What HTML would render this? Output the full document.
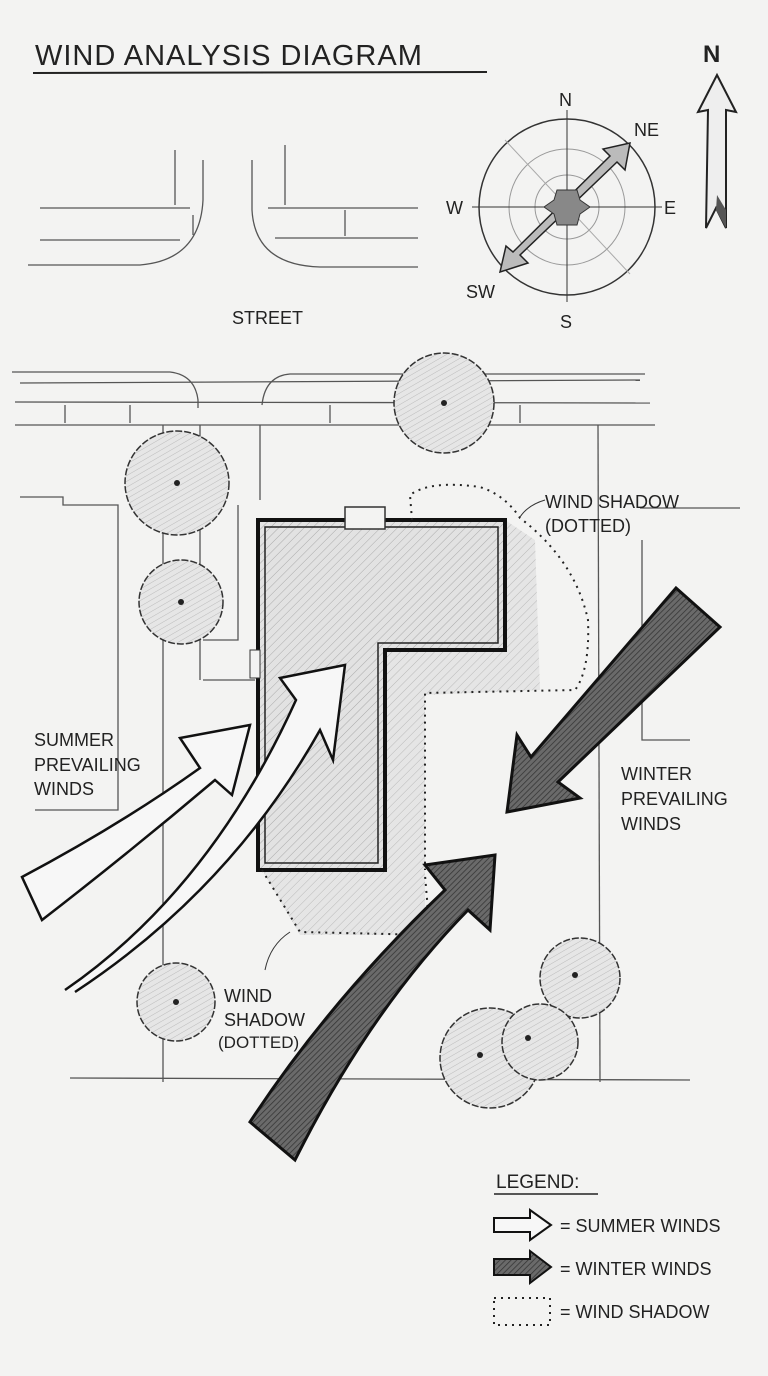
<!DOCTYPE html>
<html><head><meta charset="utf-8"><style>
html,body{margin:0;padding:0;background:#f3f3f2}
svg{display:block}
text{font-family:"Liberation Sans",sans-serif;fill:#222}
</style></head><body>
<svg width="768" height="1376" viewBox="0 0 768 1376" xmlns="http://www.w3.org/2000/svg">
<defs>
<pattern id="h" width="6" height="6" patternUnits="userSpaceOnUse" patternTransform="rotate(45)"><rect width="6" height="6" fill="#e2e2e2"/><line x1="0" y1="0" x2="0" y2="6" stroke="#aaa" stroke-width="1"/></pattern>
<pattern id="t" width="5" height="5" patternUnits="userSpaceOnUse" patternTransform="rotate(60)"><rect width="5" height="5" fill="#e6e6e6"/><line x1="0" y1="0" x2="0" y2="5" stroke="#bbb" stroke-width="1"/></pattern>
<pattern id="d" width="4" height="4" patternUnits="userSpaceOnUse" patternTransform="rotate(45)"><rect width="4" height="4" fill="#6a6a6a"/><line x1="0" y1="0" x2="0" y2="4" stroke="#333" stroke-width="1.5"/></pattern>
</defs>
<rect width="768" height="1376" fill="#f3f3f2"/>
<text x="35" y="65" font-size="29" letter-spacing="1">WIND ANALYSIS DIAGRAM</text>
<line x1="33" y1="73" x2="487" y2="72" stroke="#222" stroke-width="2"/>
<text x="703" y="62" font-size="24" font-family="Liberation Serif" font-weight="bold">N</text>
<path d="M717 75 L736 112 L726 110 L726 228 L716 208 L706 228 L708 110 L698 112 Z" fill="#eee" stroke="#222" stroke-width="2"/>
<path d="M717 195 L726 210 L726 228 L716 210 Z" fill="#555"/>
<g stroke="#333" fill="none">
<circle cx="567" cy="207" r="88" stroke-width="1.5"/>
<circle cx="567" cy="207" r="58" stroke="#999"/>
<circle cx="567" cy="207" r="32" stroke="#999"/>
<line x1="567" y1="110" x2="567" y2="302"/>
<line x1="472" y1="207" x2="662" y2="207"/>
<line x1="505" y1="140" x2="630" y2="274" stroke="#aaa"/>
</g>
<path d="M630 143 L625 170 L617 162 L520 255 L528 263 L500 272 L506 246 L513 252 L610 156 L603 149 Z" fill="#bbb" stroke="#222" stroke-width="1.5"/>
<path d="M557 190 L577 190 L580 200 L590 207 L580 214 L577 225 L557 225 L554 214 L544 207 L554 200 Z" fill="#888" stroke="#333"/>
<text x="559" y="106" font-size="18">N</text>
<text x="634" y="136" font-size="18">NE</text>
<text x="664" y="214" font-size="18">E</text>
<text x="560" y="328" font-size="18">S</text>
<text x="466" y="298" font-size="18">SW</text>
<text x="446" y="214" font-size="18">W</text>
<g stroke="#555" fill="none" stroke-width="1.3">
<path d="M175 150 L175 205"/><path d="M203 160 L203 200 Q200 260 140 265 L28 265"/>
<path d="M40 208 L190 208"/><path d="M40 240 L180 240"/><path d="M193 215 L193 235"/>
<path d="M285 145 L285 205"/><path d="M252 160 L252 210 Q255 265 320 267 L418 267"/>
<path d="M268 208 L418 208"/><path d="M275 238 L418 238"/><path d="M345 210 L345 236"/>
<path d="M12 372 L170 372 Q195 375 198 400 L198 408"/><path d="M262 405 Q265 376 290 374 L645 374"/>
<path d="M20 383 L640 380"/><path d="M15 402 L650 403"/><path d="M15 425 L655 425"/>
<path d="M65 405 L65 423"/><path d="M130 405 L130 423"/><path d="M330 405 L330 423"/><path d="M520 405 L520 423"/>
<path d="M163 425 L163 1082"/><path d="M200 425 L200 680"/><path d="M260 425 L260 500"/>
<path d="M598 425 L600 1082"/><path d="M70 1078 L690 1080"/>
<path d="M20 497 L63 497 L63 505 L118 505 L118 810 L35 810"/>
<path d="M238 505 L238 640 L203 640"/><path d="M203 680 L255 680"/>
<path d="M640 508 L740 508"/><path d="M642 540 L642 740 L690 740"/>
</g>
<text x="232" y="324" font-size="18">STREET</text>
<path d="M505 520 L535 540 L540 690 L425 695 L425 935 L300 935 L262 870 L385 870 L385 650 L505 650 Z" fill="url(#h)" opacity="0.8"/>
<path d="M258 520 L505 520 L505 650 L385 650 L385 870 L258 870 Z" fill="url(#h)" stroke="#111" stroke-width="4"/>
<path d="M265 527 L498 527 L498 643 L378 643 L378 863 L265 863 Z" fill="none" stroke="#222" stroke-width="1.5"/>
<rect x="345" y="507" width="40" height="22" fill="#f3f3f2" stroke="#333" stroke-width="1.5"/>
<rect x="250" y="650" width="10" height="28" fill="#f3f3f2" stroke="#333"/>
<g fill="none" stroke="#222" stroke-width="2" stroke-dasharray="2 5">
<path d="M412 520 L410 495 Q430 480 480 487 Q505 495 520 518 Q575 560 588 620 Q590 670 575 690 L425 693 L425 870"/>
<path d="M262 870 L300 932 L430 935 L425 875"/>
<path d="M494 1298 L550 1298 L550 1325 L494 1325 Z"/>
</g>
<path d="M520 517 Q528 505 545 500" stroke="#333" fill="none"/>
<path d="M265 970 Q270 945 290 932" stroke="#333" fill="none"/>
<text x="545" y="508" font-size="18">WIND SHADOW</text>
<text x="545" y="532" font-size="18">(DOTTED)</text>
<text x="224" y="1002" font-size="18">WIND</text>
<text x="224" y="1026" font-size="18">SHADOW</text>
<text x="218" y="1048" font-size="17">(DOTTED)</text>
<g stroke="#333" stroke-width="1.5" stroke-dasharray="7 2" fill="url(#t)">
<circle cx="177" cy="483" r="52"/>
<circle cx="181" cy="602" r="42"/>
<circle cx="444" cy="403" r="50"/>
<circle cx="176" cy="1002" r="39"/>
<circle cx="580" cy="978" r="40"/>
<circle cx="490" cy="1058" r="50"/>
<circle cx="540" cy="1042" r="38"/>
</g>
<g fill="#222"><circle cx="177" cy="483" r="3"/><circle cx="181" cy="602" r="3"/><circle cx="444" cy="403" r="3"/><circle cx="176" cy="1002" r="3"/><circle cx="575" cy="975" r="3"/><circle cx="480" cy="1055" r="3"/><circle cx="528" cy="1038" r="3"/></g>
<path d="M22 877 Q120 825 200 768 L180 738 L250 725 L232 795 L215 780 Q130 852 42 920 Z" fill="#f7f7f7" stroke="#111" stroke-width="2.5"/>
<path d="M65 990 Q210 890 296 700 L280 678 L345 665 L333 760 L320 730 Q230 890 75 992" fill="#f7f7f7" stroke="#111" stroke-width="2.5"/>
<text x="34" y="746" font-size="18">SUMMER</text>
<text x="34" y="771" font-size="18">PREVAILING</text>
<text x="34" y="795" font-size="18">WINDS</text>
<path d="M676 588 L720 627 L558 782 L580 798 L507 812 L517 735 L531 757 Z" fill="url(#d)" stroke="#111" stroke-width="3"/>
<path d="M250 1122 Q330 1000 445 890 L425 865 L495 855 L490 930 L468 910 Q370 1010 295 1160 Z" fill="url(#d)" stroke="#111" stroke-width="3"/>
<text x="621" y="780" font-size="18">WINTER</text>
<text x="621" y="805" font-size="18">PREVAILING</text>
<text x="621" y="830" font-size="18">WINDS</text>
<text x="496" y="1188" font-size="19">LEGEND:</text>
<line x1="494" y1="1194" x2="598" y2="1194" stroke="#222" stroke-width="1.5"/>
<path d="M494 1218 L530 1218 L530 1210 L551 1225 L530 1240 L530 1232 L494 1232 Z" fill="#f7f7f7" stroke="#111" stroke-width="2"/>
<text x="560" y="1232" font-size="18">= SUMMER WINDS</text>
<path d="M494 1259 L530 1259 L530 1251 L551 1267 L530 1283 L530 1275 L494 1275 Z" fill="url(#d)" stroke="#111" stroke-width="2"/>
<text x="560" y="1275" font-size="18">= WINTER WINDS</text>
<text x="560" y="1318" font-size="18">= WIND SHADOW</text>
</svg>
</body></html>
